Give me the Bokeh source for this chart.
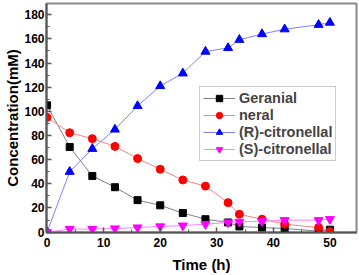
from bokeh.plotting import figure
from bokeh.models import FixedTicker, Range1d, Legend
from bokeh.embed import file_html
from bokeh.resources import INLINE

time_h = [0, 4, 8, 12, 16, 20, 24, 28, 32, 34, 38, 42, 48, 50]
geranial = [105, 70.5, 46.5, 37.2, 26.5, 22.2, 15.8, 10.7, 8, 4.7, 3.8, 3, 0.8, 2]
neral = [95, 82.3, 77.4, 71, 60.9, 52.1, 43.2, 38.1, 24.4, 14.8, 10.7, 6.6, 3.8, 0.5]
r_citronellal = [0, 50, 69, 85, 104.5, 121, 131.5, 149.5, 152.5, 159.3, 164, 168, 171.7, 173.5]
s_citronellal = [0, 2.5, 2.5, 3, 3.8, 4.7, 5.4, 6.6, 8, 8.5, 9, 9.9, 9.9, 10.7]

x_ticks = [0, 10, 20, 30, 40, 50]
y_ticks = [0, 20, 40, 60, 80, 100, 120, 140, 160, 180]

FONT = "Liberation Sans"

p = figure(width=359, height=275, output_backend="svg", toolbar_location=None,
           x_range=Range1d(-0.1, 54.7), y_range=Range1d(-0.3, 189.3),
           min_border_left=46, min_border_right=3, min_border_top=3, min_border_bottom=42)
p.xgrid.visible = False
p.ygrid.visible = False
p.outline_line_color = "#8a8a8a"
p.outline_line_width = 2
p.background_fill_color = "white"
p.border_fill_color = "white"

series = [
    ("Geranial", geranial, "#808080", "black", "square", 7),
    ("neral", neral, "#ff8080", "red", "circle", 8),
    ("(R)-citronellal", r_citronellal, "#8080ff", "blue", "triangle", 9),
    ("(S)-citronellal", s_citronellal, "#ff80ff", "magenta", "inverted_triangle", 9),
]
items = []
for name, ys, lc, mc, mk, sz in series:
    l = p.line(time_h, ys, line_color=lc, line_width=1)
    s = p.scatter(time_h, ys, marker=mk, size=sz, fill_color=mc, line_color=mc)
    items.append((name, [l, s]))

legend = Legend(items=items, location=(153, 71))
legend.label_text_font = FONT
legend.label_text_font_style = "bold"
legend.label_text_font_size = "14.5px"
legend.glyph_width = 32
legend.glyph_height = 16
legend.label_height = 16
legend.spacing = 1
legend.padding = 3
legend.margin = 0
legend.label_standoff = 4
legend.border_line_color = "#999999"
legend.border_line_width = 1.5
p.add_layout(legend)

for ax, ticks, minors in ((p.xaxis[0], x_ticks, [5, 15, 25, 35, 45]),
                          (p.yaxis[0], y_ticks, [10, 30, 50, 70, 90, 110, 130, 150, 170])):
    ax.ticker = FixedTicker(ticks=ticks, minor_ticks=minors)
    ax.axis_line_color = "#555555"
    ax.axis_line_width = 2
    ax.major_tick_line_color = "#555555"
    ax.minor_tick_line_color = "#555555"
    ax.major_tick_line_width = 1.5
    ax.major_tick_in = 5
    ax.major_tick_out = 0
    ax.minor_tick_in = 3
    ax.minor_tick_out = 0
    ax.major_label_text_font = FONT
    ax.major_label_text_font_style = "bold"
    ax.major_label_text_font_size = "12px"
    ax.major_label_text_color = "black"
    ax.axis_label_text_font = FONT
    ax.axis_label_text_font_style = "bold"
    ax.axis_label_text_color = "black"

p.xaxis.axis_label = "Time (h)"
p.yaxis.axis_label = "Concentration(mM)"
p.xaxis.axis_label_text_font_size = "15px"
p.yaxis.axis_label_text_font_size = "15px"
p.xaxis.major_label_standoff = 5
p.yaxis.major_label_standoff = 2
p.xaxis.axis_label_standoff = 6
p.yaxis.axis_label_standoff = 0

open("out.html", "w").write(file_html(p, INLINE))
